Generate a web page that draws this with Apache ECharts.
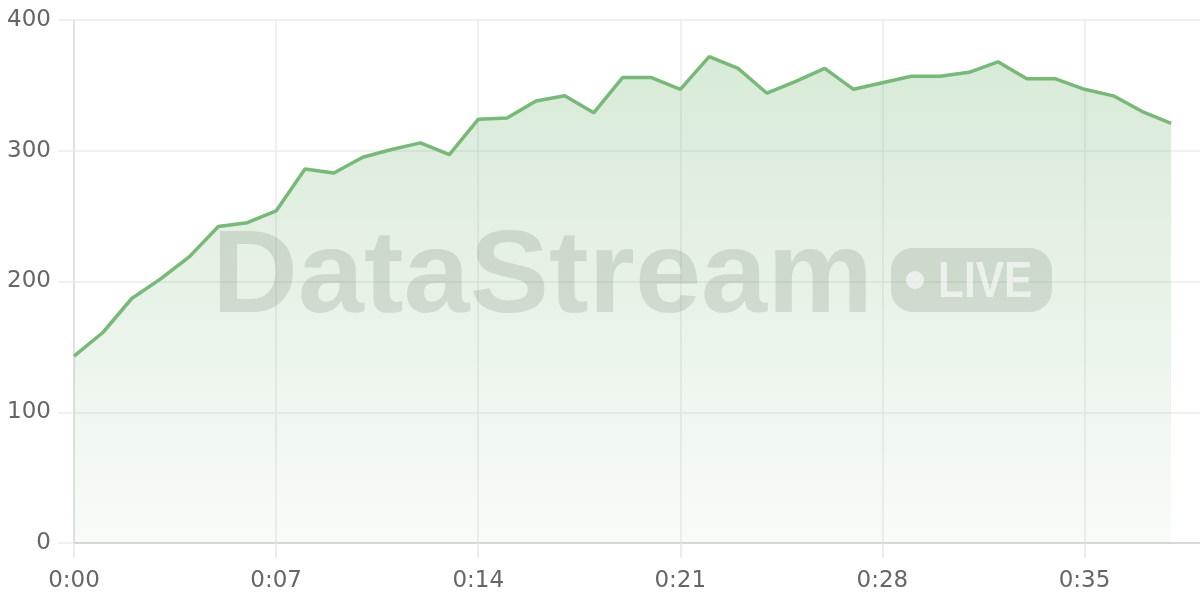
<!DOCTYPE html>
<html>
<head>
<meta charset="utf-8">
<script src="https://cdn.jsdelivr.net/npm/echarts@6/dist/echarts.min.js"></script>
<style>
html,body{margin:0;padding:0;background:#fff;}
#chart{width:1200px;height:600px;}
</style>
</head>
<body>
<div id="chart"></div>
<script>
// Elapsed seconds for each sample
const seconds = [0,1,2,3,4,5,6,7,8,9,10,11,12,13,14,15,16,17,18,19,20,21,22,23,24,25,26,27,28,29,30,31,32,33,34,35,36,37,38];
// Series values
const values = [143,161,187,202,219,242,245,254,286,283,295,301,306,297,324,325,338,342,329,356,356,347,372,363,344,353,363,347,352,357,357,360,368,355,355,347,342,330,321];
// Axis ticks
const xTicks = [0,7,14,21,28,35];
const yTicks = [0,100,200,300,400];
const watermarkText = 'DataStream';
const badgeText = 'LIVE';

function fmt(s){
  const m = Math.floor(s/60), r = Math.round(s%60);
  return m + ':' + (r<10?'0':'') + r;
}

const chart = echarts.init(document.getElementById('chart'));
const lineColor = '#78b878';
const labelFont = '"DejaVu Sans"';

chart.setOption({
  animation:false,
  backgroundColor:'#ffffff',
  grid:{left:74,right:0,top:20,bottom:57,containLabel:false},
  xAxis:{
    type:'value', min:xTicks[0], max:39, interval:xTicks[1]-xTicks[0],
    axisLine:{show:true,lineStyle:{color:'#cfcfcf',width:1.5}},
    axisTick:{show:true,length:15,lineStyle:{color:'#e6e6e6',width:1.5}},
    axisLabel:{show:true,showMaxLabel:false,margin:27,color:'#666',fontFamily:labelFont,fontSize:23,formatter:fmt},
    splitLine:{show:true,showMaxLine:false,lineStyle:{color:'#ebebeb',width:1.5}}
  },
  yAxis:{
    type:'value', min:yTicks[0], max:yTicks[yTicks.length-1], interval:yTicks[1]-yTicks[0],
    axisLine:{show:true,lineStyle:{color:'#dcdcdc',width:1.5}},
    axisTick:{show:true,length:16,lineStyle:{color:'#ebebeb',width:1.5}},
    axisLabel:{margin:23,color:'#666',fontFamily:labelFont,fontSize:23},
    splitLine:{show:true,lineStyle:{color:'#ebebeb',width:1.5}}
  },
  series:[{
    type:'line',
    data: seconds.map((s,i)=>[s,values[i]]),
    showSymbol:false,
    lineStyle:{color:lineColor,width:3.5},
    itemStyle:{color:lineColor},
    areaStyle:{
      color:new echarts.graphic.LinearGradient(0,0,0,1,[
        {offset:0,color:'rgba(120,184,120,0.42)'},
        {offset:1,color:'rgba(120,184,120,0.07)'}
      ])
    },
    z:2
  }],
  graphic:[
    {
      type:'text', x:212, y:280, z:100, scaleX:1.025,
      style:{text:watermarkText, font:'bold 116px "Liberation Sans"', fill:'rgba(95,115,95,0.19)', verticalAlign:'middle', align:'left'}
    },
    {
      type:'rect', z:100,
      shape:{x:891,y:248,width:161,height:64,r:22},
      style:{fill:'rgba(95,115,95,0.19)'}
    },
    {
      type:'circle', z:101,
      shape:{cx:915,cy:280,r:9},
      style:{fill:'rgba(255,255,255,0.6)'}
    },
    {
      type:'text', x:938, y:283, z:101, scaleX:0.85,
      style:{text:badgeText, font:'bold 50px "Liberation Sans"', fill:'rgba(255,255,255,0.6)', verticalAlign:'middle', align:'left'}
    }
  ]
});
</script>
</body>
</html>
